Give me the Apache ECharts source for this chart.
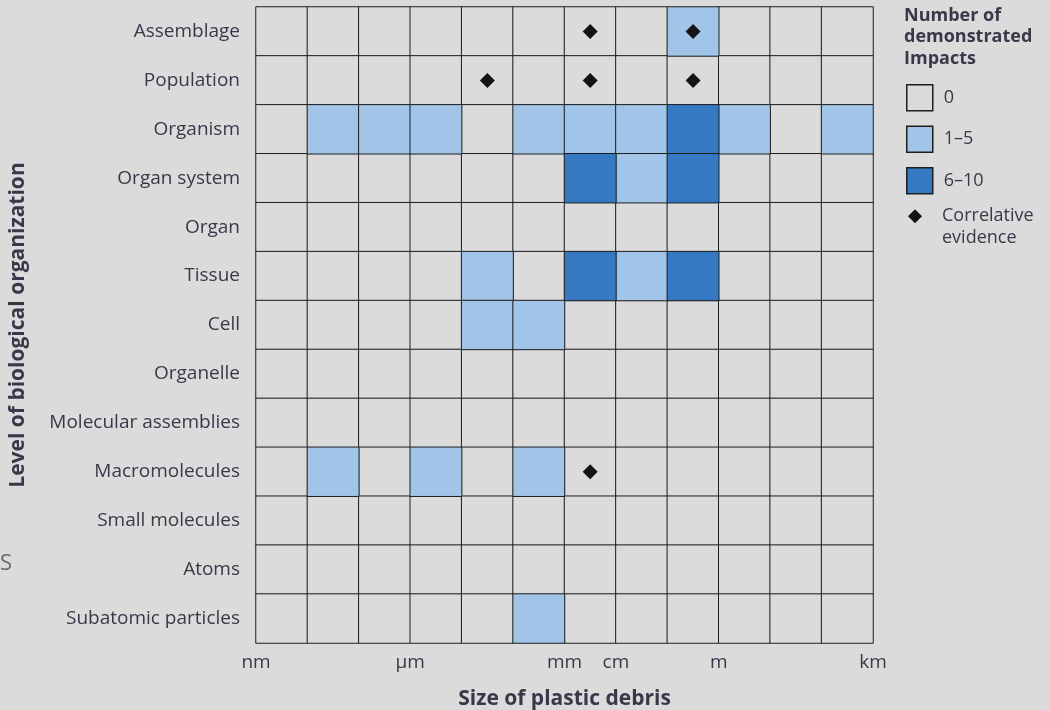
<!DOCTYPE html>
<html>
<head>
<meta charset="utf-8">
<script src="https://cdn.jsdelivr.net/npm/echarts@6/dist/echarts.min.js"></script>
<style>
html,body{margin:0;padding:0;background:#dcdbdb;}
#chart{width:1049px;height:710px;}
</style>
</head>
<body>
<div id="chart"></div>
<script>
// Columns: size bins (12 bins from nm to km)
const sizeBins = ['b1','b2','b3','b4','b5','b6','b7','b8','b9','b10','b11','b12'];
// Tick labels placed on bin boundaries (0..12)
const boundaryLabels = {0:'nm', 3:'µm', 6:'mm', 7:'cm', 9:'m', 12:'km'};
// Rows, top to bottom
const levels = ['Assemblage','Population','Organism','Organ system','Organ','Tissue','Cell',
  'Organelle','Molecular assemblies','Macromolecules','Small molecules','Atoms','Subatomic particles'];
// Impact class per cell: 0 = none, 1 = 1–5, 2 = 6–10
const impactAssemblage   = [0,0,0,0,0,0,0,0,1,0,0,0];
const impactPopulation   = [0,0,0,0,0,0,0,0,0,0,0,0];
const impactOrganism     = [0,1,1,1,0,1,1,1,2,1,0,1];
const impactOrganSystem  = [0,0,0,0,0,0,2,1,2,0,0,0];
const impactOrgan        = [0,0,0,0,0,0,0,0,0,0,0,0];
const impactTissue       = [0,0,0,0,1,0,2,1,2,0,0,0];
const impactCell         = [0,0,0,0,1,1,0,0,0,0,0,0];
const impactOrganelle    = [0,0,0,0,0,0,0,0,0,0,0,0];
const impactMolAssembly  = [0,0,0,0,0,0,0,0,0,0,0,0];
const impactMacromol     = [0,1,0,1,0,1,0,0,0,0,0,0];
const impactSmallMol     = [0,0,0,0,0,0,0,0,0,0,0,0];
const impactAtoms        = [0,0,0,0,0,0,0,0,0,0,0,0];
const impactSubatomic    = [0,0,0,0,0,1,0,0,0,0,0,0];
// Correlative evidence: [column index, row name]
const correlative = [[6,'Assemblage'],[8,'Assemblage'],[4,'Population'],[6,'Population'],[8,'Population'],[6,'Macromolecules']];

const classNames = ['0','1–5','6–10'];
const classColors = ['#dcdbdb','#a0c5e8','#3579c3'];

const matrix = [impactAssemblage,impactPopulation,impactOrganism,impactOrganSystem,impactOrgan,impactTissue,
  impactCell,impactOrganelle,impactMolAssembly,impactMacromol,impactSmallMol,impactAtoms,impactSubatomic];

const classData = [[],[],[]];
matrix.forEach((row,r)=>row.forEach((v,c)=>classData[v].push([c, r, v])));

const FONT = 'Open Sans';
const TXT = '#3a3848';

const chart = echarts.init(document.getElementById('chart'));
const heatSeries = classNames.map((n,i)=>({
  name:n, type:'heatmap', xAxisIndex:0, yAxisIndex:0,
  data: classData[i],
  itemStyle:{color:classColors[i], borderColor:'#1e1e1e', borderWidth:1},
  emphasis:{disabled:true}
}));
chart.setOption({
  backgroundColor:'#dcdbdb',
  animation:false,
  textStyle:{fontFamily:FONT},
  title:{
    text:'Number of\ndemonstrated\nImpacts',
    left:899, top:0,
    textStyle:{fontFamily:FONT, fontWeight:'bold', fontSize:18, lineHeight:21.5, color:TXT}
  },
  grid:{left:256, right:176, top:7, bottom:67, outerBoundsMode:'none', containLabel:false},
  xAxis:[
    {type:'category', data:sizeBins, show:false},
    {type:'value', min:0, max:12, interval:1, position:'bottom',
     axisLine:{show:false}, axisTick:{show:false}, splitLine:{show:false},
     axisLabel:{margin:10, fontSize:19, color:TXT, fontFamily:FONT,
       formatter:(v)=>boundaryLabels[v] || ''},
     name:'Size of plastic debris', nameLocation:'middle', nameGap:46,
     nameTextStyle:{fontFamily:FONT, fontWeight:'bold', fontSize:21, color:TXT}}
  ],
  yAxis:{
    type:'category', data:levels, inverse:true,
    axisLine:{show:false}, axisTick:{show:false}, splitLine:{show:false},
    axisLabel:{margin:16, fontSize:19, color:TXT, fontFamily:FONT},
    name:'Level of biological organization', nameLocation:'middle', nameGap:227, nameRotate:90,
    nameTextStyle:{fontFamily:FONT, fontWeight:'bold', fontSize:21, color:TXT}
  },
  legend:[
    {data:classNames, orient:'vertical', left:901, top:79, itemWidth:26, itemHeight:26, itemGap:14,
     icon:'rect', selectedMode:false,
     itemStyle:{borderColor:'#1e1e1e', borderWidth:1.5},
     textStyle:{fontFamily:FONT, fontSize:18, color:TXT, padding:[0,0,0,6]}},
    {data:['Correlative evidence'], orient:'vertical', left:903, top:179, itemWidth:14, itemHeight:14,
     selectedMode:false,
     formatter:()=>'\nCorrelative\nevidence',
     textStyle:{fontFamily:FONT, fontSize:18, color:TXT, lineHeight:21.5, padding:[0,0,0,15]}}
  ],
  graphic:[{type:'text', left:0, top:553, style:{text:'S', fontSize:22, fill:'#6a6a6a', fontFamily:FONT}}],
  series:[...heatSeries, {
    name:'Correlative evidence', type:'scatter', xAxisIndex:0, yAxisIndex:0,
    symbol:'diamond', symbolSize:15, data:correlative,
    itemStyle:{color:'#141414', opacity:1}, emphasis:{disabled:true}, z:5
  }]
});
</script>
</body>
</html>
